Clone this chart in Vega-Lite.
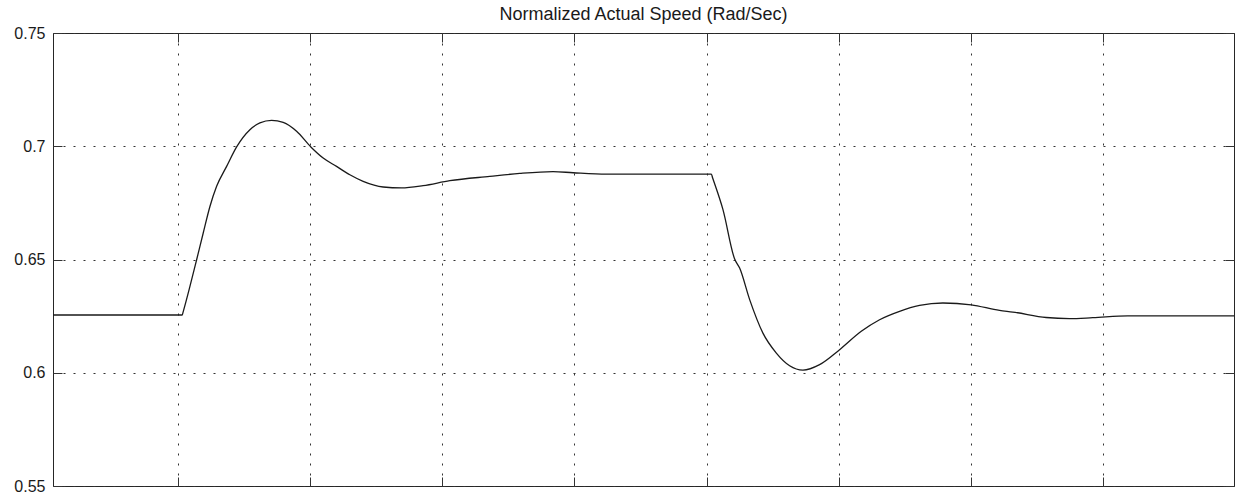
{
  "$schema": "https://vega.github.io/schema/vega-lite/v6.json",
  "width": 1181,
  "height": 453,
  "autosize": {"type": "none"},
  "padding": {"left": 53, "top": 33, "right": 2, "bottom": 10},
  "background": "white",
  "title": {"text": "Normalized Actual Speed (Rad/Sec)", "fontSize": 18, "font": "Liberation Sans", "fontWeight": "normal", "color": "#1a1a1a", "anchor": "middle", "frame": "group", "baseline": "alphabetic", "offset": -12.7},
  "config": {
    "view": {"stroke": "#262626", "strokeWidth": 1},
    "axis": {"domain": false, "title": null, "labelFont": "Liberation Sans", "labelFontSize": 16, "labelColor": "#1a1a1a", "tickColor": "#333333", "tickWidth": 1, "gridColor": "#333333", "gridDash": [2, 8], "gridWidth": 1, "gridOpacity": 1}
  },
  "data": {"values": [
    {"t": 0.0547, "v": 0.6255},
    {"t": 1.0325, "v": 0.6255},
    {"t": 1.0400, "v": 0.6270},
    {"t": 1.0907, "v": 0.6381},
    {"t": 1.1414, "v": 0.6499},
    {"t": 1.1913, "v": 0.6617},
    {"t": 1.2420, "v": 0.6734},
    {"t": 1.2926, "v": 0.6823},
    {"t": 1.3683, "v": 0.6911},
    {"t": 1.4439, "v": 0.6997},
    {"t": 1.5445, "v": 0.7073},
    {"t": 1.6201, "v": 0.7103},
    {"t": 1.7086, "v": 0.7114},
    {"t": 1.7963, "v": 0.7105},
    {"t": 1.8976, "v": 0.7066},
    {"t": 2.0057, "v": 0.6997},
    {"t": 2.0988, "v": 0.6948},
    {"t": 2.2001, "v": 0.6911},
    {"t": 2.3007, "v": 0.6874},
    {"t": 2.4012, "v": 0.6845},
    {"t": 2.5525, "v": 0.6820},
    {"t": 2.6916, "v": 0.6816},
    {"t": 2.8550, "v": 0.6826},
    {"t": 3.0569, "v": 0.6848},
    {"t": 3.3593, "v": 0.6867},
    {"t": 3.5862, "v": 0.6880},
    {"t": 3.8380, "v": 0.6888},
    {"t": 3.9893, "v": 0.6883},
    {"t": 4.2419, "v": 0.6877},
    {"t": 5.0358, "v": 0.6877},
    {"t": 5.0450, "v": 0.6861},
    {"t": 5.1236, "v": 0.6720},
    {"t": 5.2120, "v": 0.6502},
    {"t": 5.2498, "v": 0.6462},
    {"t": 5.3255, "v": 0.6323},
    {"t": 5.4260, "v": 0.6175},
    {"t": 5.5274, "v": 0.6087},
    {"t": 5.6280, "v": 0.6031},
    {"t": 5.7285, "v": 0.6012},
    {"t": 5.8548, "v": 0.6036},
    {"t": 6.0060, "v": 0.6102},
    {"t": 6.1701, "v": 0.6183},
    {"t": 6.3085, "v": 0.6234},
    {"t": 6.4598, "v": 0.6271},
    {"t": 6.6110, "v": 0.6297},
    {"t": 6.7872, "v": 0.6308},
    {"t": 7.0020, "v": 0.6300},
    {"t": 7.2160, "v": 0.6275},
    {"t": 7.3166, "v": 0.6268},
    {"t": 7.5691, "v": 0.6244},
    {"t": 7.7453, "v": 0.6239},
    {"t": 7.9215, "v": 0.6243},
    {"t": 8.1862, "v": 0.6251},
    {"t": 8.9900, "v": 0.6251}
  ]},
  "layer": [
    {
      "mark": {"type": "line", "strokeOpacity": 0},
      "encoding": {
        "x": {"field": "t", "type": "quantitative", "scale": {"domain": [0.0547, 8.99], "zero": false, "nice": false},
          "axis": {"orient": "bottom", "values": [1, 2, 3, 4, 5, 6, 7, 8], "labels": false, "grid": true, "ticks": true, "tickSize": -9}},
        "y": {"field": "v", "type": "quantitative", "scale": {"domain": [0.55, 0.75], "zero": false, "nice": false},
          "axis": {"orient": "left", "values": [0.55, 0.6, 0.65, 0.7, 0.75], "format": "~g", "grid": true, "ticks": true, "tickSize": -9, "labelPadding": 17}}
      }
    },
    {
      "mark": {"type": "line", "stroke": "#1a1a1a", "strokeWidth": 1.3, "interpolate": "monotone"},
      "encoding": {
        "x": {"field": "t", "type": "quantitative", "scale": {"domain": [0.0547, 8.99], "zero": false, "nice": false},
          "axis": {"orient": "top", "values": [1, 2, 3, 4, 5, 6, 7, 8], "labels": false, "grid": false, "ticks": true, "tickSize": -9}},
        "y": {"field": "v", "type": "quantitative", "scale": {"domain": [0.55, 0.75], "zero": false, "nice": false},
          "axis": {"orient": "right", "values": [0.55, 0.6, 0.65, 0.7, 0.75], "labels": false, "grid": false, "ticks": true, "tickSize": -9}}
      }
    }
  ],
  "resolve": {"axis": {"x": "independent", "y": "independent"}}
}
